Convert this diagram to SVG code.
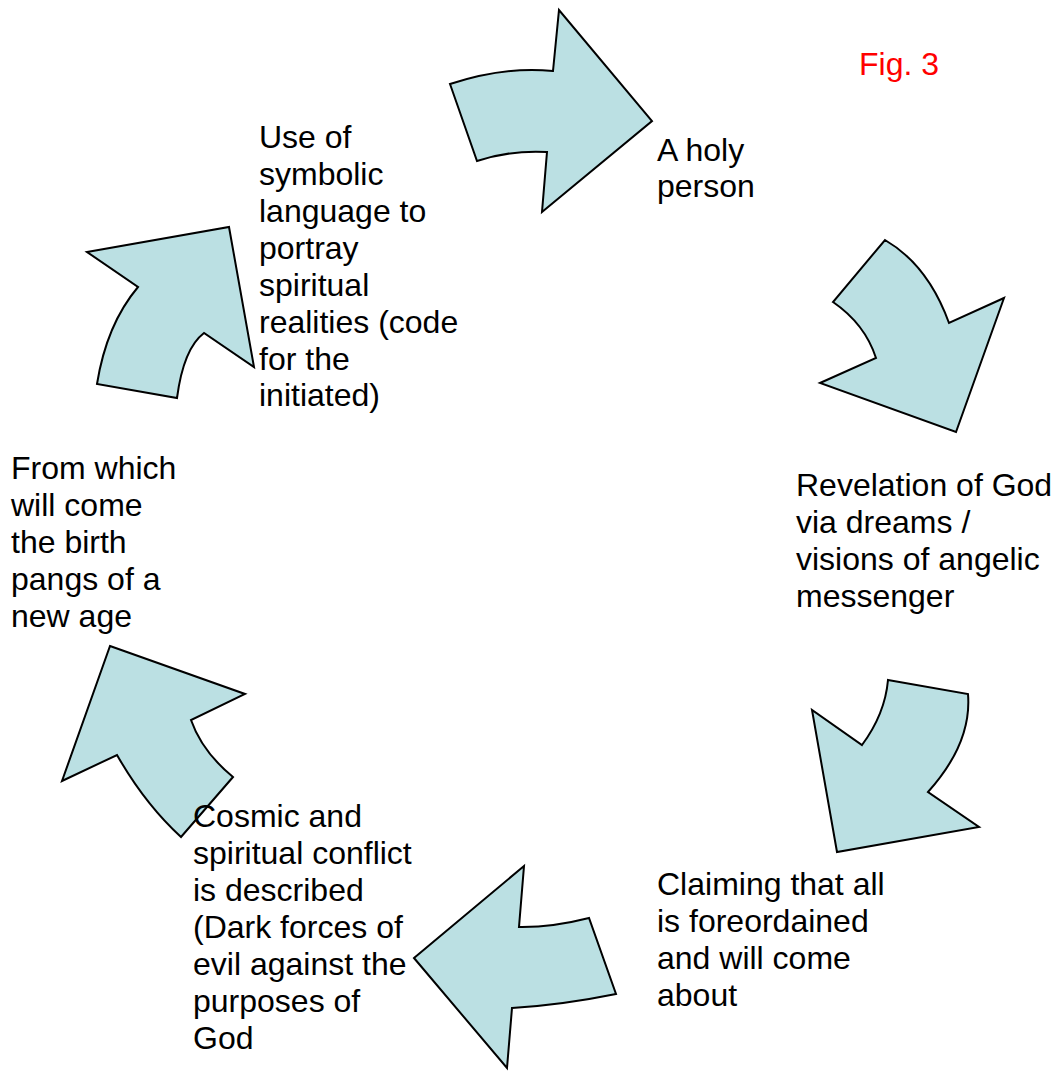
<svg xmlns="http://www.w3.org/2000/svg" width="1060" height="1071" viewBox="0 0 1060 1071">
<style>
.arrow{fill:#BBE0E3;stroke:#000;stroke-width:2;stroke-linejoin:miter}
text{font-family:"Liberation Sans",Arial,sans-serif;font-size:32px;fill:#000}
.fig{fill:#FF0000}
</style>
<rect width="1060" height="1071" fill="#fff"/>
<g id="connectors">
<path id="arrow1" class="arrow" d="M450,84 Q505,66 553,71 L559,10 L652,121 L542,212 L547,152 Q510,150 477,161 Z"/>
<path id="arrow2" class="arrow" d="M885,240 Q928,265 949,323 L1004,298 L956,432 L820,383 L876,358 Q865,324 833,302 Z"/>
<path id="arrow3" class="arrow" d="M888,680 L968,694 Q972,743 928,792 L979,827 L837,852 L812,710 L862,745 Q885,714 888,680 Z"/>
<path id="arrow4" class="arrow" d="M414,958 L524,866 L519,927 Q552,927.5 589,918 L616,994 Q562,1005 512,1008 L507,1068 Z"/>
<path id="arrow5" class="arrow" d="M110,646 L245,694 L191,720 Q202,751.5 233,777 L181,837 Q145,804 117,755 L62,781 Z"/>
<path id="arrow6" class="arrow" d="M87,252 L229,227 L254,367 L204,333 Q183.5,348.5 177,398 L97,384 Q106.5,324.5 138,287 Z"/>
</g>
<g id="node-symbolic">
<text x="259" y="148">Use of</text>
<text x="259" y="185">symbolic</text>
<text x="259" y="222">language to</text>
<text x="259" y="259">portray</text>
<text x="259" y="296">spiritual</text>
<text x="259" y="333">realities (code</text>
<text x="259" y="370">for the</text>
<text x="259" y="406">initiated)</text>
</g>
<g id="node-holy">
<text x="657" y="161">A holy</text>
<text x="657" y="197">person</text>
</g>
<g id="node-revelation">
<text x="796" y="496">Revelation of God</text>
<text x="796" y="533">via dreams /</text>
<text x="796" y="570">visions of angelic</text>
<text x="796" y="607">messenger</text>
</g>
<g id="node-claiming">
<text x="657" y="895">Claiming that all</text>
<text x="657" y="932">is foreordained</text>
<text x="657" y="969">and will come</text>
<text x="657" y="1006">about</text>
</g>
<g id="node-cosmic">
<text x="193" y="827">Cosmic and</text>
<text x="193" y="864">spiritual conflict</text>
<text x="193" y="901">is described</text>
<text x="193" y="938">(Dark forces of</text>
<text x="193" y="975">evil against the</text>
<text x="193" y="1012">purposes of</text>
<text x="193" y="1049">God</text>
</g>
<g id="node-birth">
<text x="11" y="479">From which</text>
<text x="11" y="516">will come</text>
<text x="11" y="553">the birth</text>
<text x="11" y="590">pangs of a</text>
<text x="11" y="627">new age</text>
</g>
<g id="fig-label">
<text class="fig" x="859" y="75">Fig. 3</text>
</g>
</svg>
